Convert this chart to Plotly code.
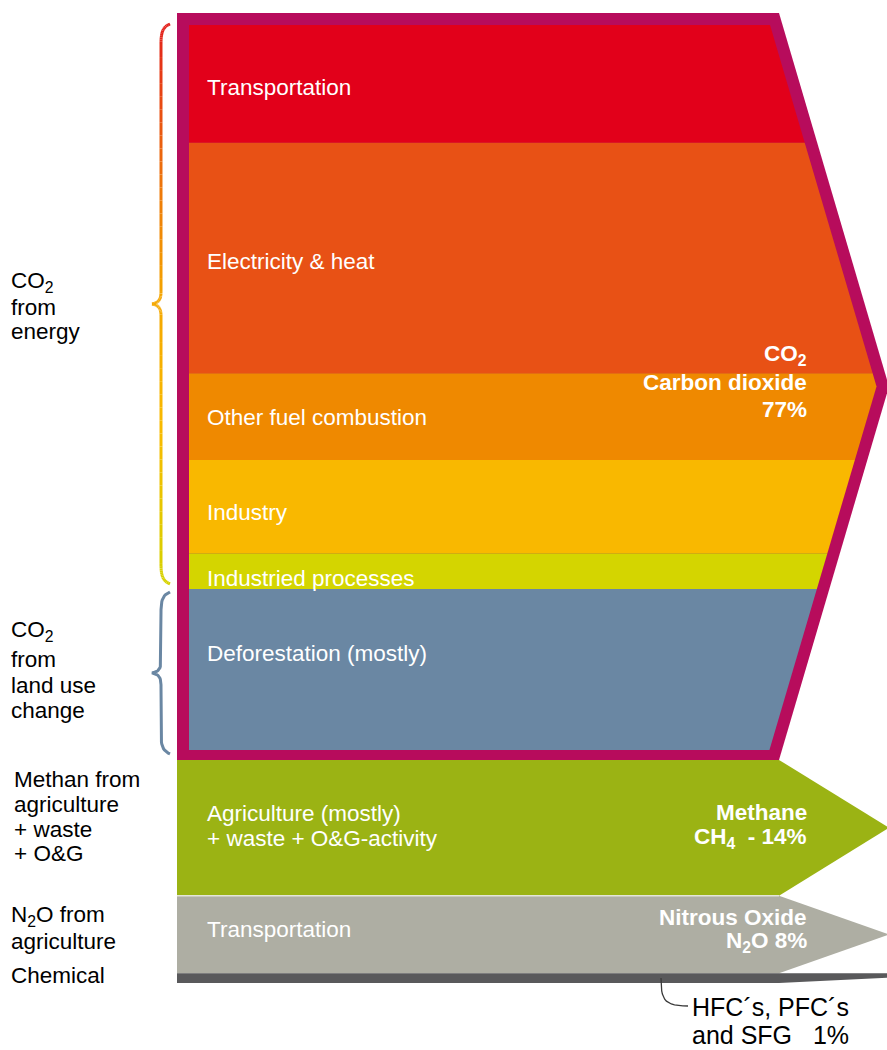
import numpy as np
import plotly.graph_objects as go

# share of total greenhouse-gas emissions, %
co2_sources = ["Transportation", "Electricity & heat", "Other fuel combustion",
               "Industry", "Industried processes", "Deforestation (mostly)"]
co2_shares = [12.5, 24.5, 9.2, 9.9, 3.8, 17.1]
co2_colors = ["#E2001A", "#E85115", "#EF8900", "#F9B800", "#D4D500", "#6A87A3"]

gas_names = ["CO2", "CH4", "N2O", "F-gases"]
gas_shares = [77, 14, 8, 1]
gas_colors = ["#B70C5C", "#9BB314", "#AEAEA3", "#59595B"]

gas_titles = [["CO<sub>2</sub>", "Carbon dioxide", "77%"],
              ["Methane", "CH<sub>4</sub>\u00a0\u00a0- 14%"],
              ["Nitrous Oxide", "N<sub>2</sub>O 8%"]]
side_labels = [["CO<sub>2</sub>", "from", "energy"],
               ["CO<sub>2</sub>", "from", "land use", "change"],
               ["Methan from", "agriculture", "+ waste", "+ O&G"],
               ["N<sub>2</sub>O from", "agriculture"],
               ["Chemical"]]
inner_labels = [["Agriculture (mostly)", "+ waste + O&G-activity"], ["Transportation"]]
fgas_note = ["HFC´s, PFC´s", "and SFG\u00a0\u00a0 1%"]

# layout (pixels)
W, H = 887, 1050
PX = 9.7             # pixels per percent
TOP = 13
LEFT, BORDER = 177, 12
ARROW_X, TIP_X = 779, 889
FONT = "Liberation Sans, Arial, sans-serif"
FS = 22.5


def pct(px):
    return (px - TOP) / PX


def py(px):
    return 1 - px / H


fig = go.Figure()


def poly(xs, ys, color):
    fig.add_trace(go.Scatter(x=xs, y=ys, fill="toself", fillcolor=color, mode="lines",
                             line=dict(width=0, color=color), hoverinfo="skip"))


# the four gas arrows
edges = np.concatenate([[0], np.cumsum(gas_shares)])
for i, col in enumerate(gas_colors):
    y0, y1 = edges[i], edges[i + 1]
    if i < len(gas_colors) - 1:
        xs = [LEFT, ARROW_X, TIP_X, ARROW_X, LEFT]
        ys = [y0, y0, (y0 + y1) / 2, y1, y1]
    else:
        xs = [LEFT, TIP_X, TIP_X, ARROW_X, LEFT]
        ys = [y0, y0, y0 + 0.45 * (y1 - y0), y1, y1]
    poly(xs, ys, col)

# thin light line between methane and N2O
fig.add_trace(go.Scatter(x=[LEFT, ARROW_X], y=[edges[2], edges[2]], mode="lines",
                         line=dict(color="#E4E6D8", width=1.5), hoverinfo="skip"))

# CO2 split inside the magenta frame
co2_total = gas_shares[0]
mid = co2_total / 2
in_top = BORDER / PX
in_bot = co2_total - 10 / PX
seg = in_top + np.concatenate([[0], np.cumsum(co2_shares)]) * (in_bot - in_top) / sum(co2_shares)


def right(y):
    return float(np.interp(y, [0, mid, co2_total], [ARROW_X, TIP_X, ARROW_X])) - 12.5


for a, b, col in zip(seg[:-1], seg[1:], co2_colors):
    xs, ys = [LEFT + BORDER, right(a)], [a, a]
    if a < mid < b:
        xs.append(right(mid))
        ys.append(mid)
    xs += [right(b), LEFT + BORDER]
    ys += [b, b]
    poly(xs, ys, col)


# curly braces
def bez(p0, p1, p2, p3, n=14):
    t = np.linspace(0, 1, n)[:, None]
    p = ((1 - t) ** 3) * p0 + 3 * ((1 - t) ** 2) * t * p1 + 3 * (1 - t) * t ** 2 * p2 + t ** 3 * p3
    return p


def brace(y0, y1, x_end=170, x_sp=161, x_tip=152):
    ym = (y0 + y1) / 2
    c1, c2 = 20 / PX, 12 / PX
    A = np.array
    top = bez(A([x_end, y0]), A([x_sp + 1, y0 + 0.15 * c1]), A([x_sp, y0 + 0.5 * c1]), A([x_sp, y0 + c1]))
    up = bez(A([x_sp, ym - c2]), A([x_sp, ym - 0.4 * c2]), A([x_sp - 2, ym - 0.1 * c2]), A([x_tip, ym]))
    lo = bez(A([x_tip, ym]), A([x_sp - 2, ym + 0.1 * c2]), A([x_sp, ym + 0.4 * c2]), A([x_sp, ym + c2]))
    bot = bez(A([x_sp, y1 - c1]), A([x_sp, y1 - 0.5 * c1]), A([x_sp + 1, y1 - 0.15 * c1]), A([x_end, y1]))
    s1 = np.column_stack([np.full(20, x_sp), np.linspace(y0 + c1, ym - c2, 20)])
    s2 = np.column_stack([np.full(20, x_sp), np.linspace(ym + c2, y1 - c1, 20)])
    return np.vstack([top, s1, up, lo, s2, bot])


def hex2rgb(h):
    return np.array([int(h[i:i + 2], 16) for i in (1, 3, 5)])


grad = [(0.0, "#E3201C"), (0.3, "#EE7A0A"), (0.5, "#F5A800"), (0.72, "#F9BB00"), (1.0, "#D6D300")]
b1 = brace(pct(24), seg[5] - 5 / PX)
t_all = (b1[:, 1] - b1[0, 1]) / (b1[-1, 1] - b1[0, 1])
for k in range(len(b1) - 1):
    t = (t_all[k] + t_all[k + 1]) / 2
    rgb = np.array([np.interp(t, [g[0] for g in grad], [hex2rgb(g[1])[j] for g in grad]) for j in range(3)])
    fig.add_trace(go.Scatter(x=b1[k:k + 2, 0], y=b1[k:k + 2, 1], mode="lines", hoverinfo="skip",
                             line=dict(color="rgb(%d,%d,%d)" % tuple(rgb.astype(int)), width=3)))

b2 = brace(seg[5] + 3 / PX, co2_total - 6 / PX)
fig.add_trace(go.Scatter(x=b2[:, 0], y=b2[:, 1], mode="lines", hoverinfo="skip",
                         line=dict(color=co2_colors[5], width=3)))

# leader line to the F-gas note
lead = bez(np.array([661, pct(978)]), np.array([661, pct(1000)]), np.array([664, pct(1006)]),
           np.array([688, pct(1006)]))
fig.add_trace(go.Scatter(x=lead[:, 0], y=lead[:, 1], mode="lines", hoverinfo="skip",
                         line=dict(color="#3A3A3A", width=1.3)))


def label(text, x, y_px, anchor="left", color="black", bold=False, size=FS):
    fig.add_annotation(x=x, y=py(y_px), xref="x", yref="paper", showarrow=False,
                       text="<b>%s</b>" % text if bold else text, xanchor=anchor, yanchor="middle",
                       font=dict(family=FONT, size=size, color=color))


# labels inside the CO2 block
for name, y in zip(co2_sources, [88, 262, 417, 512, 578, 653]):
    label(name, 205, y, color="white")
for lines, ys in zip(inner_labels, [[813, 838], [929]]):
    for t, y in zip(lines, ys):
        label(t, 205, y, color="white")

# gas titles on the right
for lines, ys in zip(gas_titles, [[355, 382, 410], [812, 838], [917, 942]]):
    for t, y in zip(lines, ys):
        label(t, 809, y, anchor="right", color="white", bold=True)

# left side labels
side_pos = [(9, [282, 307, 332]), (9, [631, 659, 685, 710]), (12, [779, 804, 829, 853]),
            (9, [916, 941]), (9, [975])]
for lines, (x, ys) in zip(side_labels, side_pos):
    for t, y in zip(lines, ys):
        label(t, x, y)

for t, y in zip(fgas_note, [1007, 1035]):
    label(t, 690, y, size=25)

fig.update_layout(width=W, height=H, margin=dict(l=0, r=0, t=0, b=0),
                  paper_bgcolor="white", plot_bgcolor="white", showlegend=False,
                  xaxis=dict(range=[0, W], visible=False, fixedrange=True),
                  yaxis=dict(range=[pct(H), pct(0)], visible=False, fixedrange=True))

fig.write_html("out.html", config={"displayModeBar": False},
               post_script="document.body.style.margin='0';")
